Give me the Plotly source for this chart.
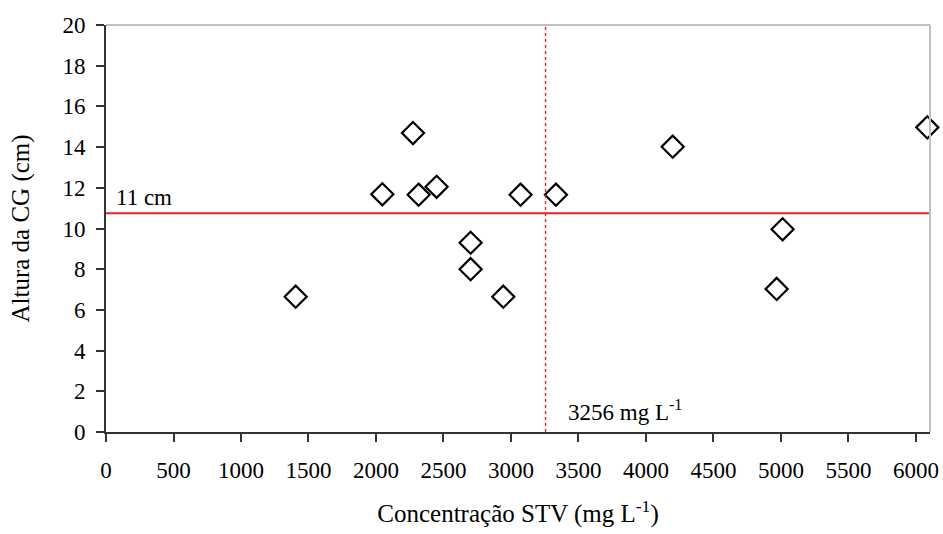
import plotly.graph_objects as go

# STV concentration (mg/L) and CG height (cm)
stv = [1405, 2047, 2274, 2316, 2449, 2701, 2701, 2943, 3071, 3333, 4198, 5012, 4968, 6084]
altura = [6.65, 11.68, 14.69, 11.66, 12.05, 9.30, 8.0, 6.65, 11.66, 11.66, 14.02, 9.96, 7.03, 14.97]

limite_altura = 10.75
limite_stv = 3256
x_ticks = list(range(0, 6001, 500))
y_ticks = list(range(0, 21, 2))

font_family = "Liberation Serif, Times New Roman, serif"
tick_font = dict(family=font_family, size=23, color="black")
title_font = dict(family=font_family, size=25, color="black")

fig = go.Figure()
fig.add_trace(go.Scatter(
    x=stv, y=altura, mode="markers",
    marker=dict(symbol="diamond-open", size=17, color="black", line=dict(width=2.2, color="black")),
    showlegend=False, cliponaxis=False,
))

# Reference lines
fig.add_shape(type="line", xref="paper", yref="y", x0=0, x1=1, y0=limite_altura, y1=limite_altura,
              line=dict(color="#ee1c25", width=2.2))
fig.add_shape(type="line", xref="x", yref="paper", x0=limite_stv, x1=limite_stv, y0=0, y1=1,
              line=dict(color="#ff1a1a", width=1.4, dash="3px,3px"))
# Grey frame on top and right
fig.add_shape(type="line", xref="paper", yref="paper", x0=0, x1=1, y0=1, y1=1,
              line=dict(color="#c0c0c0", width=2))
fig.add_shape(type="line", xref="paper", yref="paper", x0=1, x1=1, y0=0, y1=1,
              line=dict(color="#c0c0c0", width=2))

fig.add_annotation(x=60, y=limite_altura, xref="x", yref="y", text="11 cm", showarrow=False,
                   xanchor="left", yanchor="bottom", yshift=1,
                   font=tick_font)
fig.add_annotation(x=3410, y=1.05, xref="x", yref="y", text="3256 mg L<sup>-1</sup>", showarrow=False,
                   xanchor="left", yanchor="middle",
                   font=tick_font)

axis_common = dict(
    showgrid=False, zeroline=False, showline=True, linecolor="#333333", linewidth=2,
    ticks="outside", ticklen=8, tickwidth=2, tickcolor="#333333",
    tickfont=tick_font, automargin=False, ticklabeloverflow="allow",
)

fig.update_xaxes(range=[0, 6104], tickvals=x_ticks, ticklabelstandoff=8, **axis_common,
                 title=dict(text="Concentração STV (mg L<sup>-1</sup>)", standoff=23, font=title_font))
fig.update_yaxes(range=[0, 20], tickvals=y_ticks, ticklabelstandoff=6, **axis_common,
                 title=dict(text="Altura da CG (cm)", standoff=26, font=title_font))

fig.update_layout(
    width=943, height=534,
    margin=dict(l=106, r=13, t=25, b=102),
    plot_bgcolor="white", paper_bgcolor="white",
)

fig.write_html("out.html")
